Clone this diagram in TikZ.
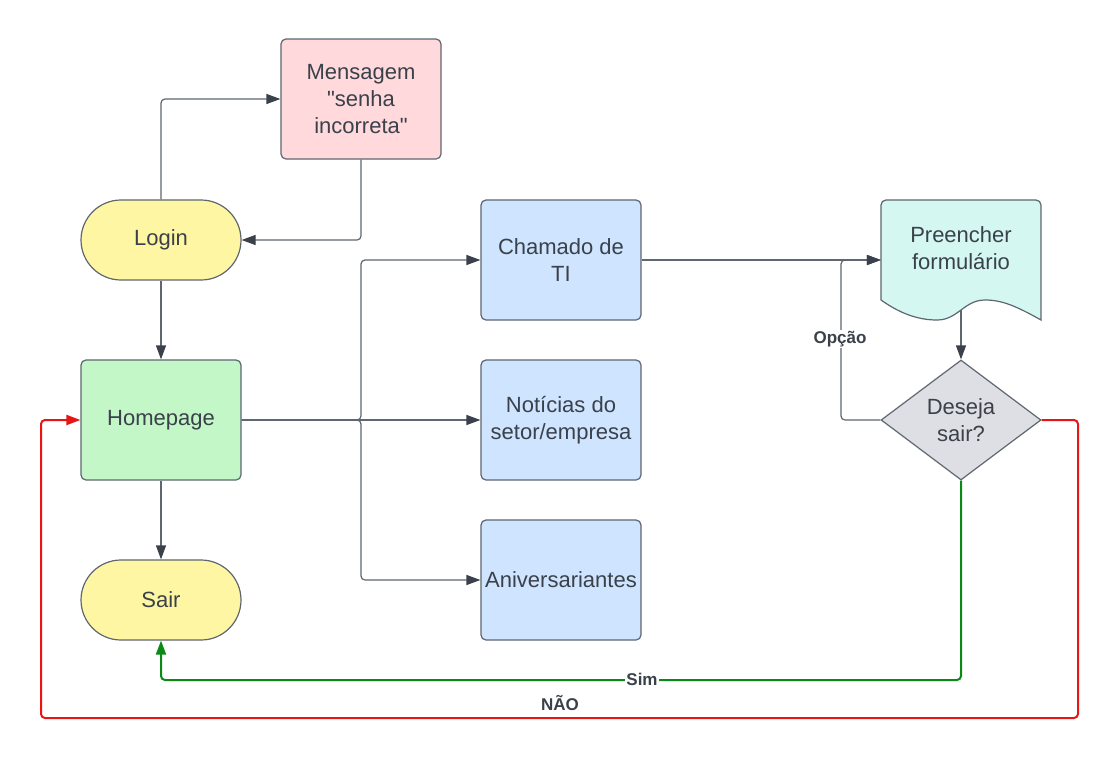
\documentclass[tikz,border=0pt]{standalone}
\usepackage{fontspec}
\setmainfont{Liberation Sans}[Ligatures=TeXOff]
\usetikzlibrary{arrows.meta,shapes.geometric}
\definecolor{txt}{HTML}{3A414A}
\definecolor{brd}{HTML}{5E6670}
\definecolor{pinkf}{HTML}{FFD9DB}
\definecolor{yelf}{HTML}{FFF6A3}
\definecolor{grnf}{HTML}{C3F7C8}
\definecolor{bluf}{HTML}{CFE4FF}
\definecolor{cyaf}{HTML}{D4F7F2}
\definecolor{grayf}{HTML}{DEDFE4}
\definecolor{redl}{HTML}{E81515}
\definecolor{grnl}{HTML}{0A8A14}
\tikzset{
  box/.style={draw=brd, line width=1.2pt, rounded corners=5pt, minimum width=160pt, minimum height=120pt, inner sep=0pt, align=center, text=txt, font=\fontsize{22}{27}\selectfont},
  term/.style={box, minimum height=80pt, rounded corners=40pt},
  conn/.style={draw=brd, line width=1.2pt, rounded corners=4pt, -{Triangle[length=14pt,width=10pt,color=txt]}},
  lbl/.style={font=\bfseries\fontsize{17}{20}\selectfont, text=txt, inner sep=1pt},
}
\begin{document}
\begin{tikzpicture}[x=1pt,y=-1pt]
\useasboundingbox (0,0) rectangle (1120,761);
% nodes
\node[box, fill=pinkf] (msg) at (361,99) {Mensagem\\"senha\\incorreta"};
\node[term, fill=yelf] (login) at (161,240) {Login};
\node[box, fill=grnf] (home) at (161,420) {Homepage};
\node[term, fill=yelf] (sair) at (161,600) {Sair};
\node[box, fill=bluf] (cham) at (561,260) {Chamado de\\TI};
\node[box, fill=bluf] (noti) at (561,420) {Notícias do\\setor/empresa};
\node[box, fill=bluf] (aniv) at (561,580) {Aniversariantes};
% document shape
\node[minimum width=160pt, minimum height=120pt, inner sep=0pt] (pf) at (961,260) {};
\draw[draw=brd, fill=cyaf, line width=1.2pt]
  (881,300) [rounded corners=5pt] -- (881,200) -- (1041,200) [sharp corners] -- (1041,320)
  .. controls (1016,306) and (1002,300) .. (985,300)
  .. controls (964,300) and (958,320) .. (937,320)
  .. controls (916,320) and (898,312) .. (881,300) -- cycle;
\node[text=txt, align=center, font=\fontsize{22}{27}\selectfont] (pft) at (961,248) {Preencher\\formulário};
\coordinate (pfb) at (961,310);
\node[diamond, draw=brd, fill=grayf, line width=1.2pt, minimum width=160pt, minimum height=120pt, inner sep=0pt, align=center, text=txt, font=\fontsize{22}{27}\selectfont] (dia) at (961,420) {Deseja\\sair?};
% coordinates
\coordinate (split) at (361,420);
\coordinate (optc) at (841,260);
\coordinate (g1) at (161,680);
\coordinate (r1) at (1078,718);
\coordinate (r2) at (41,718);
% connectors
\draw[conn] (login.north) |- (msg.west);
\draw[conn] (msg.south) |- (login.east);
\draw[conn] (login.south) -- (home.north);
\draw[conn] (home.south) -- (sair.north);
\draw[conn] (home.east) -- (split) |- (cham.west);
\draw[conn] (home.east) -- (noti.west);
\draw[conn] (home.east) -- (split) |- (aniv.west);
\draw[conn] (cham.east) -- (pf.west);
\draw[conn] (pfb) -- (dia.north);
\draw[conn] (dia.west) -| (optc) -- (pf.west);
\node[lbl, fill=white] (opl) at (840,339) {Opção};
\draw[draw=grnl, line width=2pt, rounded corners=4pt, -{Triangle[length=14pt,width=10pt,color=grnl]}] (dia.south) |- (g1) -- (sair.south);
\node[lbl, fill=white] (siml) at (642,679) {Sim};
\draw[draw=redl, line width=2pt, rounded corners=4pt, -{Triangle[length=14pt,width=10pt,color=redl]}] (dia.east) -| (r1) -- (r2) |- (home.west);
\node[lbl] (naol) at (560,703) {NÃO};
\end{tikzpicture}
\end{document}
